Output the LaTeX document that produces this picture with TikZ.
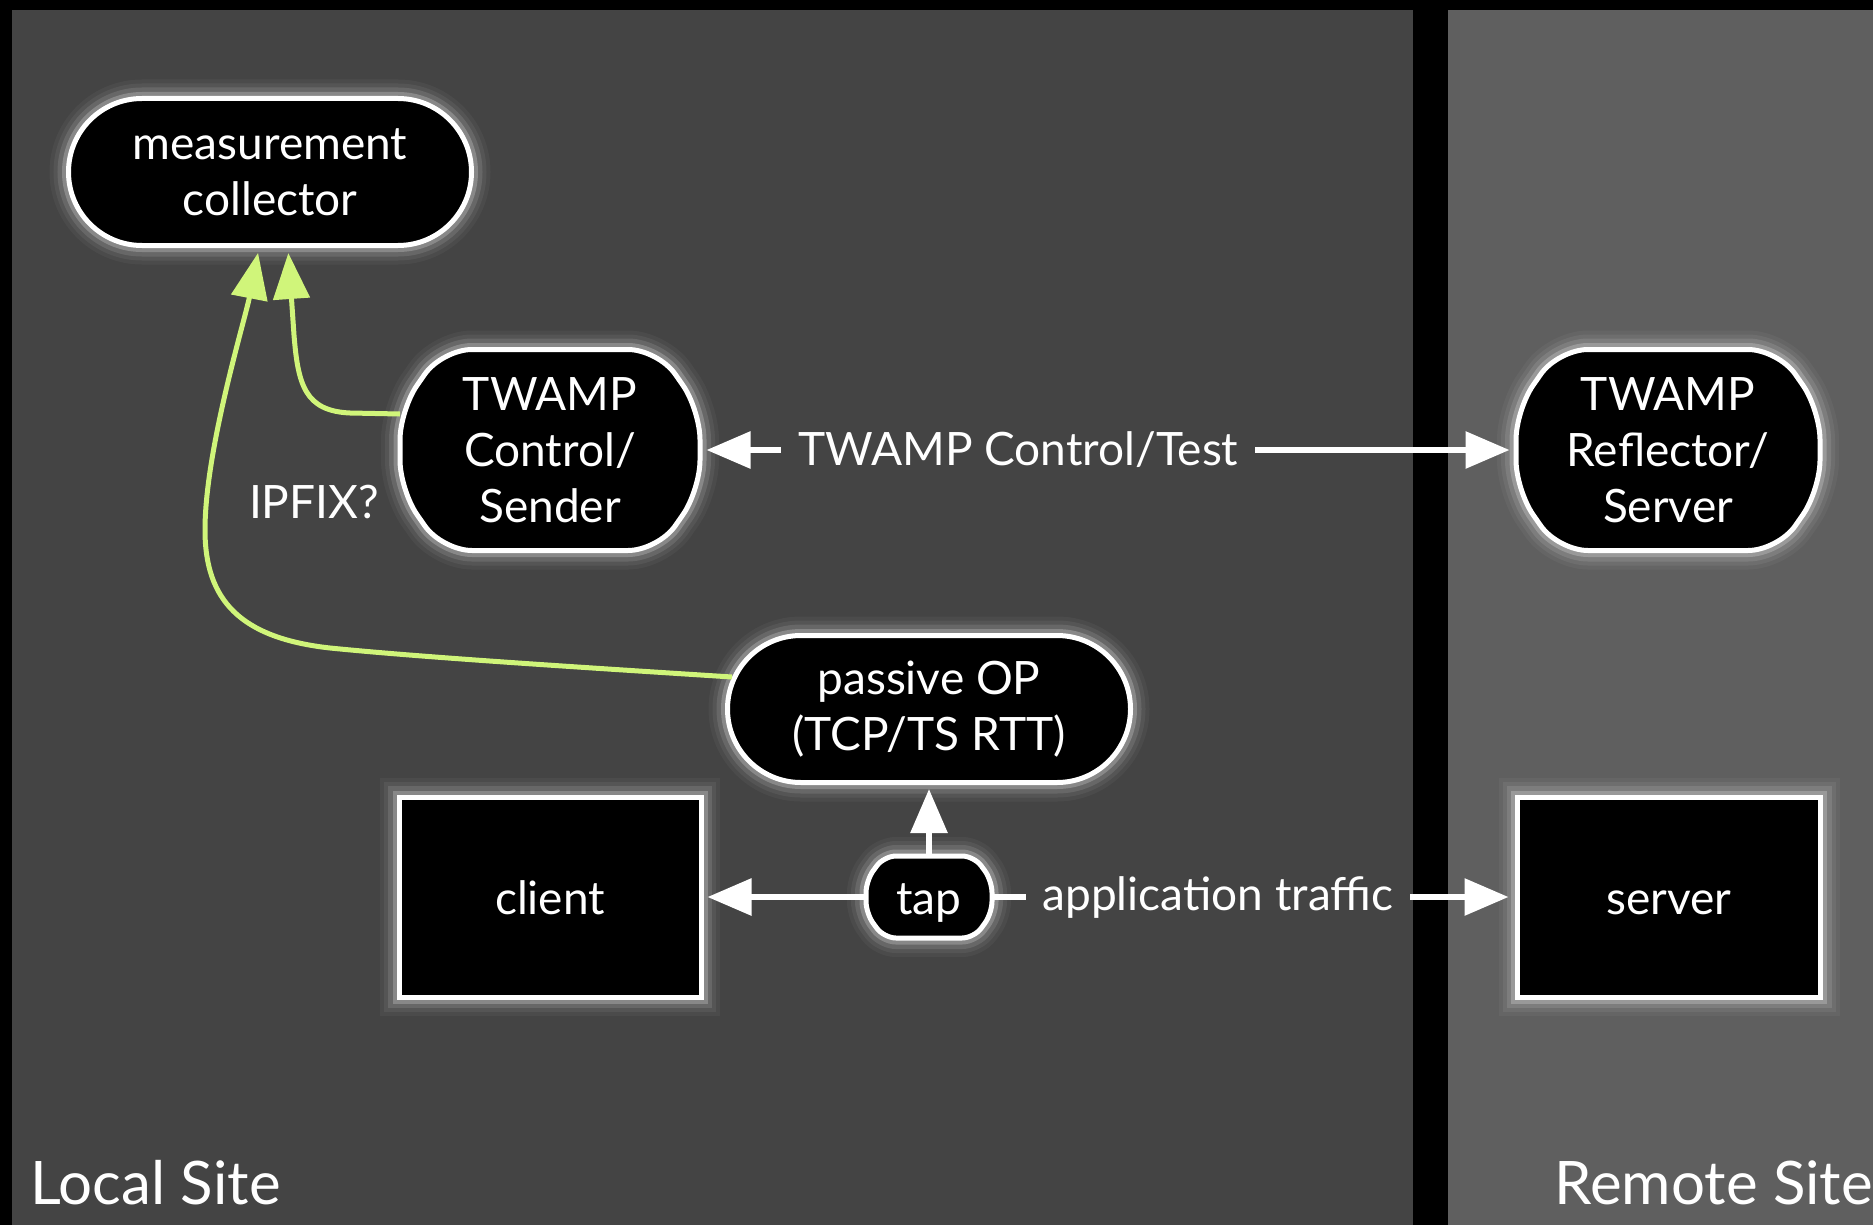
\documentclass[tikz,border=0pt]{standalone}
\usepackage{fontspec}
\setmainfont{Lato}
\usetikzlibrary{arrows.meta,shapes.misc,calc}
\definecolor{localbg}{RGB}{68,68,68}
\definecolor{remotebg}{RGB}{95,95,95}
\definecolor{limeline}{RGB}{208,245,122}
\newcommand\ndfont{\fontsize{46}{56}\selectfont}
\newcommand\sitefont{\fontsize{60}{68}\selectfont}
\pgfdeclarelayer{panel}
\pgfdeclarelayer{shapes}
\pgfsetlayers{panel,shapes,main}
\newcommand\barrelpath[4]{% node, bulge, corner radius, side fraction
  \begin{pgfonlayer}{shapes}
  \draw[glow, draw=white, fill=black, line width=5pt, rounded corners=#3, line join=round]
   ($(#1.north west)+(#2,0)$) -- ($(#1.north east)+(-#2,0)$)
   -- ($(#1.north east)!#4!(#1.south east)$) -- ($(#1.south east)!#4!(#1.north east)$)
   -- ($(#1.south east)+(-#2,0)$) -- ($(#1.south west)+(#2,0)$)
   -- ($(#1.south west)!#4!(#1.north west)$) -- ($(#1.north west)!#4!(#1.south west)$) -- cycle;
  \end{pgfonlayer}}
\begin{document}
\begin{tikzpicture}[x=1pt,y=-1pt,
 glow/.style={preaction={draw=white,line width=38pt,opacity=0.04},
   preaction={draw=white,line width=30pt,opacity=0.06},
   preaction={draw=white,line width=22pt,opacity=0.11},
   preaction={draw=white,line width=13pt,opacity=0.22}},
 box/.style={glow, draw=white, fill=black, line width=5pt, text=white, font=\ndfont, align=center, inner sep=0pt},
 pill/.style={box, rounded rectangle, rounded rectangle arc length=180},
 barrel/.style={rectangle, text=white, font=\ndfont, align=center, inner sep=0pt, outer sep=0pt},
 sq/.style={box, rectangle, text height=43pt, text depth=9pt},
 lbl/.style={text=white, font=\ndfont, inner sep=0pt},
 gap/.style={lbl, fill=localbg, inner xsep=17pt, inner ysep=6pt},
 wline/.style={draw=white, line width=6pt},
 wtip/.tip={Triangle[length=44pt,width=36pt]},
 gline/.style={draw=limeline, line width=5pt, -{Triangle[length=46pt,width=36pt]}, shorten >=5pt},
]
\path[use as bounding box] (0,0) rectangle (1873,1225);
\begin{pgfonlayer}{panel}
\fill[black] (0,0) rectangle (1873,1225);
\fill[localbg] (12,10) rectangle (1413,1225);
\fill[remotebg] (1448,10) rectangle (1873,1225);
\end{pgfonlayer}

\node[pill, minimum width=403pt, minimum height=147pt] (coll) at (270,172) {measurement\\collector};
\node[barrel, minimum width=300pt, minimum height=201pt] (snd) at (550,450) {TWAMP\\Control/\\Sender};
\barrelpath{snd}{42}{30pt}{0.3}
\node[barrel, minimum width=304pt, minimum height=201pt] (refl) at (1668,450) {TWAMP\\Reflector/\\Server};
\barrelpath{refl}{42}{30pt}{0.3}
\node[pill, minimum width=403pt, minimum height=147pt] (pop) at (929,709) {passive OP\\(TCP/TS RTT)};
\node[sq, minimum width=302pt, minimum height=200pt] (cli) at (550,897) {client};
\node[barrel, minimum width=126pt, minimum height=82pt, text height=43pt, text depth=9pt] (tap) at (929,897) {tap};
\barrelpath{tap}{18}{12pt}{0.3}
\node[sq, minimum width=303pt, minimum height=200pt] (srv) at (1669,897) {server};

\node[lbl] (ipfix) at (314,502) {IPFIX?};
\node[lbl, font=\sitefont, anchor=west] (loc) at (30,1183) {Local Site};
\node[lbl, font=\sitefont, anchor=east] (rem) at (1873,1183) {Remote Site};

\draw[wline, wtip-wtip, shorten <=6.5pt, shorten >=6.5pt] (snd) -- node[gap, pos=0.39] (ctl) {TWAMP Control/Test} (refl);
\draw[wline, -wtip, shorten >=6.5pt] (tap) -- node[gap, pos=0.432] (app) {application traffic} (srv);
\draw[wline, -wtip, shorten >=4pt] (tap) -- (cli);
\draw[wline, -wtip, shorten >=4pt] (tap) -- (pop);

\draw[gline] ([yshift=36pt]snd.west) -- (350,413) .. controls (305,411) and (298,385) .. (294,335) -- ([xshift=18pt]coll.south);
\draw[gline] ([shift={(7pt,32pt)}]pop.west) .. controls (560,666) and (420,657) .. (330,648) .. controls (240,638) and (205,600) .. (205,530) .. controls (205,450) and (245,320) .. ([xshift=-11pt]coll.south);
\end{tikzpicture}
\end{document}
